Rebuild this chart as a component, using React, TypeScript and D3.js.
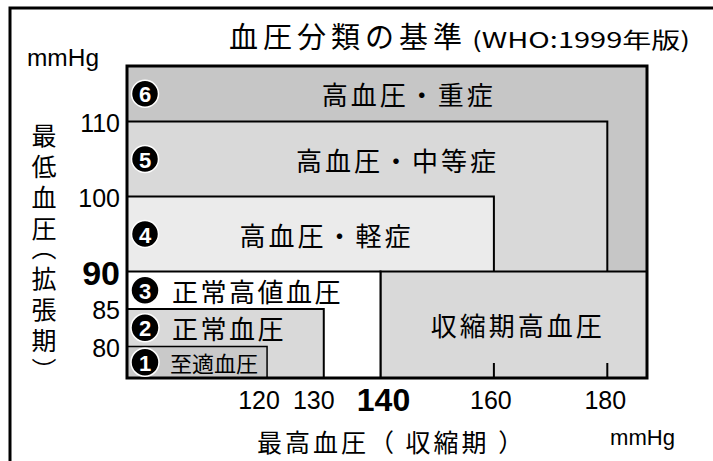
import React from 'react';
import * as d3 from 'd3';

// WHO 1999 blood pressure categories, innermost first
const categories = ['至適血圧', '正常血圧', '正常高値血圧', '高血圧・軽症', '高血圧・中等症', '高血圧・重症'];
const systolicUpper = [120, 130, 140, 160, 180, null];
const diastolicUpper = [80, 85, 90, 100, 110, null];
const ishLabel = '収縮期高血圧';
const ishSystolicFrom = 140;
const ishDiastolicUpper = 90;

const xTicks = [120, 130, 140, 160, 180];
const yTicks = [80, 85, 90, 100, 110];
const boldX = 140;
const boldY = 90;

const yTitle = '最低血圧（拡張期）';
const xTitle = '最高血圧（ 収縮期 ）';

const fills = ['#c9c9c9', '#d9d9d9', '#ffffff', '#ebebeb', '#d9d9d9', '#c6c6c6'];
const ishFill = '#d9d9d9';
// centre of the wide labels, in mmHg (systolic)
const labelCentre = [null, null, null, 130.5, 143, 145];
const xLabelShift = [-8, -10, 3, -3, -2];

const JP = "'Noto Sans CJK JP', sans-serif";
const NUM = "'Liberation Sans', Arial, sans-serif";

export default function App() {
  const width = 713;
  const height = 461;
  const plot = { left: 127, right: 647, top: 66, bottom: 378 };

  const x = d3.scaleLinear().domain([95.3, 187]).range([plot.left, plot.right]);
  const y = d3.scaleLinear().domain([75.8, 117.4]).range([plot.bottom, plot.top]);
  const xMax = x.domain()[1];
  const yMax = y.domain()[1];

  const boxes = categories.map((name, i) => {
    const x1 = x(systolicUpper[i] ?? xMax);
    const y0 = y(diastolicUpper[i] ?? yMax);
    const below = i === 0 ? plot.bottom : y(diastolicUpper[i - 1] as number);
    return { name, i, x1, y0, mid: (y0 + below) / 2 };
  });

  const order = [5, 4, 3, -1, 2, 1, 0];
  const ishX0 = x(ishSystolicFrom);
  const ishY0 = y(ishDiastolicUpper);

  return (
    <svg
      width={width}
      height={height}
      style={{ position: 'absolute', left: 0, top: 0, background: '#fff' }}
    >
      {/* frame */}
      <path d={`M10,${height} V8 H${width}`} fill="none" stroke="#000" strokeWidth={3} />

      {/* title */}
      <text x={229} y={35} dominantBaseline="central" fontFamily={JP} fontSize={29} letterSpacing={5}>
        血圧分類の基準
      </text>
      <text
        x={472}
        y={38}
        dominantBaseline="central"
        fontFamily={JP}
        fontSize={22}
        textLength={218}
        lengthAdjust="spacingAndGlyphs"
      >
        (WHO:1999年版)
      </text>

      {/* boxes */}
      {order.map((k) =>
        k === -1 ? (
          <rect
            key="ish"
            x={ishX0}
            y={ishY0}
            width={plot.right - ishX0}
            height={plot.bottom - ishY0}
            fill={ishFill}
            stroke="#000"
            strokeWidth={2}
          />
        ) : (
          <rect
            key={k}
            x={plot.left}
            y={boxes[k].y0}
            width={boxes[k].x1 - plot.left}
            height={plot.bottom - boxes[k].y0}
            fill={fills[k]}
            stroke="#000"
            strokeWidth={k === 0 ? 1.5 : 2}
          />
        ),
      )}

      {/* small ticks inside bottom edge */}
      {xTicks
        .filter((t) => t > ishSystolicFrom)
        .map((t) => (
          <line key={t} x1={x(t)} x2={x(t)} y1={plot.bottom} y2={plot.bottom - 15} stroke="#000" strokeWidth={2} />
        ))}

      {/* outer border */}
      <rect
        x={plot.left}
        y={plot.top}
        width={plot.right - plot.left}
        height={plot.bottom - plot.top}
        fill="none"
        stroke="#000"
        strokeWidth={3}
      />

      {/* box labels */}
      {boxes.map((b) => (
        <g key={b.name}>
          <g transform={`translate(${plot.left + 18},${b.mid})`}>
            <circle r={b.i < 3 ? 14 : 13.5} fill="#000" stroke="#fff" strokeWidth={1.5} />
            <text
              y={1}
              textAnchor="middle"
              dominantBaseline="central"
              fill="#fff"
              fontFamily={NUM}
              fontWeight="bold"
              fontSize={22}
            >
              {b.i + 1}
            </text>
          </g>
          {b.i < 3 ? (
            <text
              x={plot.left + (b.i === 0 ? 43 : 45)}
              y={b.mid}
              dominantBaseline="central"
              fontFamily={JP}
              fontSize={b.i === 0 ? 22 : 26}
              letterSpacing={b.i === 0 ? 0 : 2.5}
            >
              {b.name}
            </text>
          ) : (
            <text
              x={x(labelCentre[b.i] as number)}
              y={b.mid}
              textAnchor="middle"
              dominantBaseline="central"
              fontFamily={JP}
              fontSize={26}
              letterSpacing={3}
            >
              {b.name}
            </text>
          )}
        </g>
      ))}
      <text
        x={(ishX0 + plot.right) / 2 + 4}
        y={(ishY0 + plot.bottom) / 2}
        textAnchor="middle"
        dominantBaseline="central"
        fontFamily={JP}
        fontSize={26}
        letterSpacing={3}
      >
        {ishLabel}
      </text>

      {/* y axis */}
      <text x={27} y={66} fontFamily={NUM} fontSize={23} textLength={72} lengthAdjust="spacingAndGlyphs">
        mmHg
      </text>
      {yTicks.map((t) => (
        <text
          key={t}
          x={120}
          y={y(t) + 1}
          textAnchor="end"
          dominantBaseline="central"
          fontFamily={NUM}
          fontSize={t === boldY ? 34 : 25}
          fontWeight={t === boldY ? 'bold' : 'normal'}
        >
          {t}
        </text>
      ))}
      <text
        x={44}
        y={123}
        fontFamily={JP}
        fontSize={25}
        letterSpacing={6}
        style={{ writingMode: 'vertical-rl', textOrientation: 'mixed', fontFeatureSettings: "'vpal'" }}
      >
        {yTitle}
      </text>

      {/* x axis */}
      {xTicks.map((t, i) => (
        <text
          key={t}
          x={x(t) + xLabelShift[i]}
          y={t === boldX ? 411 : 409}
          textAnchor="middle"
          fontFamily={NUM}
          fontSize={t === boldX ? 32 : 25}
          fontWeight={t === boldX ? 'bold' : 'normal'}
        >
          {t}
        </text>
      ))}
      <text x={257} y={441} dominantBaseline="central" fontFamily={JP} fontSize={25} letterSpacing={3}>
        {xTitle}
      </text>
      <text x={610} y={445} fontFamily={NUM} fontSize={22} textLength={65} lengthAdjust="spacingAndGlyphs">
        mmHg
      </text>
    </svg>
  );
}
